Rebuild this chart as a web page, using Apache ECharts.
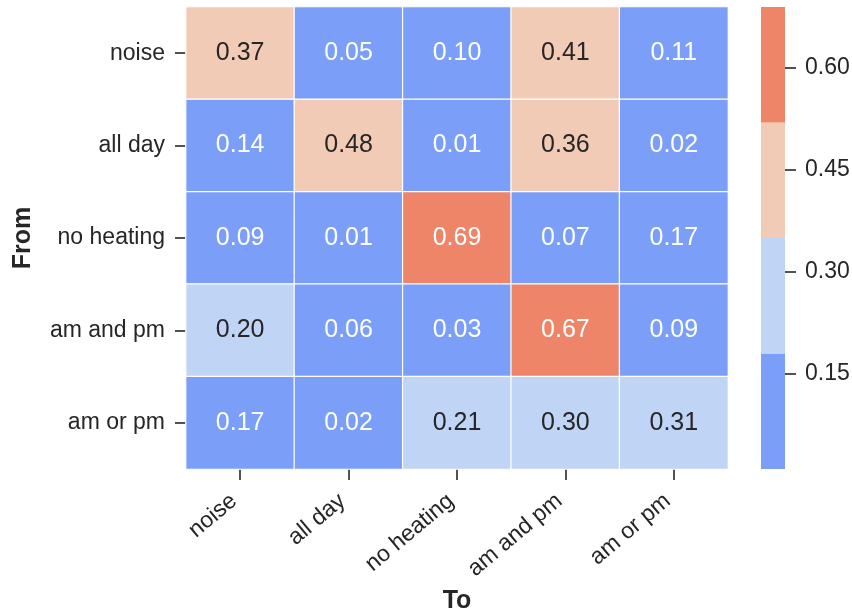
<!DOCTYPE html>
<html>
<head>
<meta charset="utf-8">
<script src="https://cdn.jsdelivr.net/npm/echarts@6/dist/echarts.min.js"></script>
<style>html,body{margin:0;padding:0;background:#fff}#c{width:852px;height:614px}</style>
</head>
<body>
<div id="c"></div>
<script>
const categories = ['noise', 'all day', 'no heating', 'am and pm', 'am or pm'];
const values = [
  [0.37, 0.05, 0.10, 0.41, 0.11],
  [0.14, 0.48, 0.01, 0.36, 0.02],
  [0.09, 0.01, 0.69, 0.07, 0.17],
  [0.20, 0.06, 0.03, 0.67, 0.09],
  [0.17, 0.02, 0.21, 0.30, 0.31]
];
const binEdges = [0.01, 0.18, 0.35, 0.52, 0.69];
const binColors = ['#7b9ff9', '#c0d4f5', '#f2cbb7', '#ee8468'];
const colorbarTicks = [0.15, 0.30, 0.45, 0.60];

const FONT = 'Liberation Sans, Arial, sans-serif';
const DARK = '#262626';

function binIndex(v) {
  for (let i = 0; i < 4; i++) if (v < binEdges[i + 1] || i === 3) return i;
}
const heatData = [];
values.forEach((row, r) => row.forEach((v, c) => {
  const b = binIndex(v);
  heatData.push({
    value: [c, r, v],
    label: { color: (b === 0 || b === 3) ? '#ffffff' : DARK }
  });
}));
const pieces = binColors.map((col, i) => ({
  gte: binEdges[i], lt: i === 3 ? 10 : binEdges[i + 1], color: col
}));
const cbData = binColors.map((col, i) => [0, binEdges[i], binEdges[i + 1], i]);

const chart = echarts.init(document.getElementById('c'));
chart.setOption({
  animation: false,
  textStyle: { fontFamily: FONT },
  grid: [
    { left: 186, top: 7, width: 542, height: 462, containLabel: false, outerBoundsMode: 'none' },
    { left: 761, top: 7, width: 24, height: 462, containLabel: false, outerBoundsMode: 'none' }
  ],
  xAxis: [
    {
      type: 'category', gridIndex: 0, data: categories,
      axisLine: { show: false },
      axisTick: { show: true, alignWithLabel: true, length: 11, lineStyle: { color: DARK, width: 1.6 } },
      axisLabel: { rotate: 40, fontSize: 23, color: DARK, margin: 24, padding: [0, 8, 0, 0], fontFamily: FONT },
      splitLine: { show: false },
      name: 'To', nameLocation: 'middle', nameGap: 120,
      nameTextStyle: { fontSize: 25, fontWeight: 'bold', color: DARK, fontFamily: FONT }
    },
    {
      type: 'category', gridIndex: 1, data: ['c'], show: false
    }
  ],
  yAxis: [
    {
      type: 'category', gridIndex: 0, data: categories, inverse: true,
      axisLine: { show: false },
      axisTick: { show: true, alignWithLabel: true, length: 11, lineStyle: { color: DARK, width: 1.6 } },
      axisLabel: { fontSize: 23, color: DARK, margin: 21, fontFamily: FONT },
      splitLine: { show: false },
      name: 'From', nameLocation: 'middle', nameGap: 150,
      nameTextStyle: { fontSize: 25, fontWeight: 'bold', color: DARK, fontFamily: FONT }
    },
    {
      type: 'value', gridIndex: 1, min: binEdges[0], max: binEdges[4], position: 'right',
      axisLine: { show: false },
      splitLine: { show: false },
      axisTick: { show: true, length: 11, customValues: colorbarTicks, lineStyle: { color: DARK, width: 1.6 } },
      axisLabel: { fontSize: 23, color: DARK, margin: 20, customValues: colorbarTicks, fontFamily: FONT,
        formatter: v => v.toFixed(2) }
    }
  ],
  visualMap: {
    type: 'piecewise', show: false, seriesIndex: 0, dimension: 2, pieces: pieces
  },
  series: [
    {
      type: 'heatmap', xAxisIndex: 0, yAxisIndex: 0, data: heatData,
      itemStyle: { borderColor: '#ffffff', borderWidth: 1.2 },
      label: { show: true, fontSize: 25, fontFamily: FONT, formatter: p => p.value[2].toFixed(2) },
      emphasis: { disabled: true }
    },
    {
      type: 'custom', xAxisIndex: 1, yAxisIndex: 1, data: cbData,
      renderItem: (params, api) => {
        const top = api.coord([api.value(0), api.value(2)]);
        const bot = api.coord([api.value(0), api.value(1)]);
        const w = api.size([1, 0])[0];
        return {
          type: 'rect',
          shape: { x: top[0] - w / 2, y: top[1], width: w, height: bot[1] - top[1] },
          style: { fill: binColors[api.value(3)] }
        };
      }
    }
  ]
});
</script>
</body>
</html>
